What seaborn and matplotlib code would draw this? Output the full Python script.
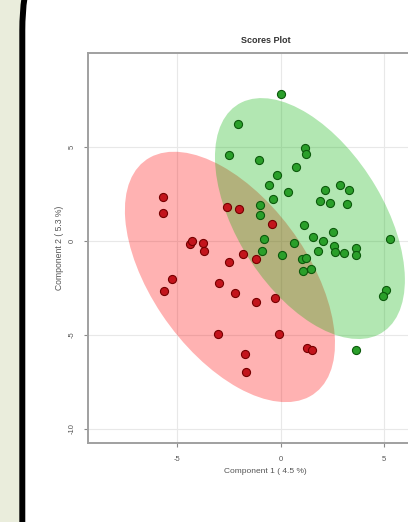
import numpy as np
import pandas as pd
import matplotlib
matplotlib.use("Agg")
import matplotlib.pyplot as plt
from matplotlib.patches import Ellipse, FancyBboxPatch
from matplotlib.transforms import IdentityTransform
import seaborn as sns

# Scores des deux groupes
red_x = [-5.69, -5.69, -2.57, -2.00, -0.41, -4.38, -4.26, -3.77, -3.71, -2.48,
         -1.80, -1.20, -5.23, -5.63, -2.98, -2.20, -1.19, -0.27, -3.01, -0.06,
         -1.70, -1.66, 1.27, 1.49]
red_y = [2.36, 1.47, 1.83, 1.69, 0.89, -0.16, -0.02, -0.12, -0.54, -1.12,
         -0.67, -0.95, -2.00, -2.66, -2.21, -2.78, -3.26, -3.03, -4.95, -4.95,
         -6.00, -6.98, -5.72, -5.80]

green_x = [0.00, -2.07, -2.51, -1.06, 1.16, 1.21, 0.75, -0.16, -0.58, 0.35,
           -0.36, -0.98, -0.98, 2.88, 3.29, 2.16, 1.90, 2.38, 3.18, 1.13,
           2.52, 1.57, 5.25, 2.06, -0.83, 0.65, 2.57, 2.64, 3.05, 3.63,
           3.65, -0.90, 0.04, 1.79, 1.03, 1.24, 1.09, 1.47, 5.10, 4.93, 3.62]
green_y = [7.82, 6.22, 4.58, 4.34, 4.94, 4.64, 3.96, 3.52, 3.01, 2.61,
           2.24, 1.93, 1.39, 3.00, 2.71, 2.70, 2.13, 2.02, 1.96, 0.85,
           0.50, 0.21, 0.11, 0.00, 0.11, -0.12, -0.24, -0.60, -0.65, -0.39,
           -0.75, -0.54, -0.74, -0.54, -0.95, -0.88, -1.58, -1.50, -2.58, -2.90, -5.78]

# Ellipses de confiance : centre + variances/covariance
ell_groups = ["A", "B"]
ell_cx = [-2.45, 1.41]
ell_cy = [-1.91, 1.20]
ell_sxx = [25.7, 21.0]
ell_syy = [44.5, 41.2]
ell_sxy = [-18.0, -15.0]

x_ticks = [-5, 0, 5]
y_ticks = [-10, -5, 0, 5]

fill_colors = {"A": "#ff0000", "B": "#00b000"}
point_colors = {"A": "#c3141c", "B": "#2a9f2a"}
edge_colors = {"A": "#760000", "B": "#0c5a0c"}

df = pd.concat([
    pd.DataFrame({"x": red_x, "y": red_y, "groupe": "A"}),
    pd.DataFrame({"x": green_x, "y": green_y, "groupe": "B"}),
], ignore_index=True)

sns.set_style("white")
plt.rcParams["font.family"] = ["Liberation Sans", "DejaVu Sans"]

fig = plt.figure(figsize=(4.08, 5.22), dpi=100)
fig.patch.set_facecolor("#eaeddc")

# Cadre arrondi noir (coin haut-gauche visible seulement)
frame = FancyBboxPatch((22.3, -300), 800, 632 + 300,
                       boxstyle="round,pad=0,rounding_size=140",
                       transform=IdentityTransform(), facecolor="white",
                       edgecolor="black", linewidth=4.3, zorder=-5)
fig.patches.append(frame)

ax = fig.add_axes([0.2157, 0.1513, 0.870, 0.7471])
ax.set_facecolor("white")

# Ellipses
for g, cx, cy, sxx, syy, sxy in zip(ell_groups, ell_cx, ell_cy, ell_sxx, ell_syy, ell_sxy):
    cov = np.array([[sxx, sxy], [sxy, syy]])
    vals, vecs = np.linalg.eigh(cov)
    angle = np.degrees(np.arctan2(vecs[1, 1], vecs[0, 1]))
    ell = Ellipse((cx, cy), 2 * np.sqrt(vals[1]), 2 * np.sqrt(vals[0]), angle=angle,
                  facecolor=fill_colors[g], alpha=0.3, edgecolor="none", zorder=1)
    ax.add_patch(ell)

# Points
for g in ell_groups:
    sns.scatterplot(data=df[df["groupe"] == g], x="x", y="y", ax=ax,
                    color=point_colors[g], edgecolor=edge_colors[g],
                    linewidth=0.8, s=34, legend=False, zorder=3)

ax.set_xlim(-9.3, 7.83)
ax.set_ylim(-10.76, 10.02)
ax.set_xticks(x_ticks)
ax.set_yticks(y_ticks)
ax.set_xticklabels([str(t) for t in x_ticks])
ax.set_yticklabels([str(t) for t in y_ticks])

ax.grid(True, color="#e8e8e8", linewidth=0.8, zorder=0)
ax.set_axisbelow(True)

for side in ["left", "bottom", "top", "right"]:
    ax.spines[side].set_color("#a0a0a0")
    ax.spines[side].set_linewidth(1.4)

ax.tick_params(axis="both", direction="out", length=3, width=0.8, color="#8a8a8a",
               labelsize=5.5, labelcolor="#555555", bottom=True, left=True)
ax.tick_params(axis="x", pad=6)
ax.tick_params(axis="y", pad=6, labelrotation=90)
for lab in ax.get_yticklabels():
    lab.set_va("center")

ax.set_title("Scores Plot", fontsize=6.5, fontweight="bold", color="#333333", pad=7)
ax.set_xlabel("Component 1 ( 4.5 %)", fontsize=6, color="#555555", labelpad=4)
ax.set_ylabel("Component 2 ( 5.3 %)", fontsize=6.2, color="#555555", labelpad=3)

fig.savefig("out.png", dpi=100, facecolor=fig.get_facecolor())
